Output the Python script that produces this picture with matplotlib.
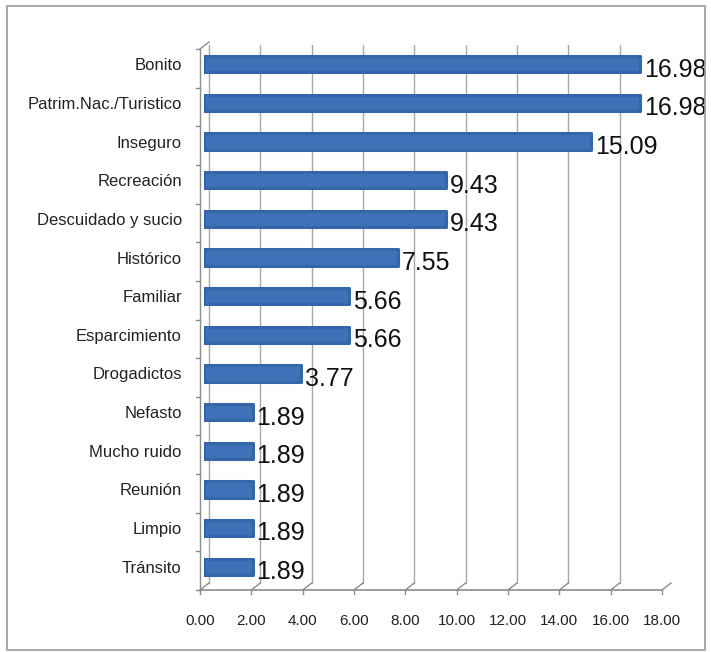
import matplotlib.pyplot as plt
from matplotlib.lines import Line2D
from matplotlib.patches import Rectangle
from matplotlib.transforms import offset_copy, ScaledTranslation

categorias = ['Bonito', 'Patrim.Nac./Turistico', 'Inseguro', 'Recreación',
              'Descuidado y sucio', 'Histórico', 'Familiar', 'Esparcimiento',
              'Drogadictos', 'Nefasto', 'Mucho ruido', 'Reunión', 'Limpio', 'Tránsito']
porcentajes = [16.98, 16.98, 15.09, 9.43, 9.43, 7.55, 5.66, 5.66, 3.77,
               1.89, 1.89, 1.89, 1.89, 1.89]
ticks_x = [0, 2, 4, 6, 8, 10, 12, 14, 16, 18]

plt.rcParams['font.family'] = ['Liberation Sans Narrow', 'Liberation Sans', 'DejaVu Sans']

W, H = 711, 652
fig = plt.figure(figsize=(W / 100, H / 100), dpi=100)

# axes en pixels (x: 0 -> 204 px, 18 -> 666 px ; y: 45 -> 586 px depuis le haut)
x0, x1 = 204, 666
y_top, y_bot = 45, 586
ax = fig.add_axes([x0 / W, 1 - y_bot / H, (x1 - x0) / W, (y_bot - y_top) / H])
ax.set_xlim(0, 18)
ax.set_ylim(-0.5, len(categorias) - 0.5)
for s in ax.spines.values():
    s.set_visible(False)

# decalages de perspective (mur du fond / plancher avant)
back = offset_copy(ax.transData, fig, x=5, y=3, units='dots')
front = offset_copy(ax.transData, fig, x=-4, y=-4, units='dots')
c_grid = '#a8a8a8'
c_floor = '#8c8c8c'
y_min, y_max = -0.5, len(categorias) - 0.5

# mur du fond : lignes verticales
for t in ticks_x:
    ax.add_line(Line2D([t, t], [y_min, y_max], transform=back, color=c_grid, lw=1, zorder=1))
# diagonales du plancher + petites graduations
for t in ticks_x:
    p_b = back.transform((t, y_min))
    p_f = front.transform((t, y_min))
    fig.add_artist(Line2D([p_f[0], p_b[0]], [p_f[1], p_b[1]], transform=None,
                          color=c_floor, lw=1, zorder=1))
    fig.add_artist(Line2D([p_f[0], p_f[0]], [p_f[1], p_f[1] - 4], transform=None,
                          color=c_floor, lw=1, zorder=1))
# ligne avant du plancher
ax.add_line(Line2D([0, 18], [y_min, y_min], transform=front, color=c_floor, lw=1.2,
                   zorder=1, clip_on=False))
# mur de gauche
ax.add_line(Line2D([0, 0], [y_min, y_max], transform=front, color=c_floor, lw=1,
                   zorder=1, clip_on=False))
p_b = back.transform((0, y_max))
p_f = front.transform((0, y_max))
fig.add_artist(Line2D([p_f[0], p_b[0]], [p_f[1], p_b[1]], transform=None, color=c_floor, lw=1))
for k in range(len(categorias) + 1):
    p = front.transform((0, k - 0.5))
    fig.add_artist(Line2D([p[0] - 4, p[0]], [p[1], p[1]], transform=None, color=c_floor, lw=1))

# barres
pos = list(range(len(categorias) - 1, -1, -1))
ax.barh(pos, porcentajes, height=0.42, color='#3d72b8', edgecolor='#3567a8',
        linewidth=2.2, joinstyle='round', zorder=3)

for p, v in zip(pos, porcentajes):
    ax.text(v + 0.15, p - 0.14, f'{v:.2f}', va='center', ha='left', fontsize=18,
            color='#111111', zorder=4)

# etiquettes
ax.set_yticks(pos)
ax.set_yticklabels(categorias, fontsize=12, color='#222222')
ax.tick_params(axis='y', length=0, pad=16)
ax.set_xticks(ticks_x)
ax.set_xticklabels([f'{t:.2f}' for t in ticks_x], fontsize=11, color='#222222')
ax.tick_params(axis='x', length=0, pad=20)
for lab in ax.get_xticklabels():
    lab.set_transform(lab.get_transform() + ScaledTranslation(-4 / 100, 0, fig.dpi_scale_trans))

# cadre exterieur
fig.add_artist(Rectangle((7 / W, 1 - 650 / H), 698 / W, 644 / H, transform=fig.transFigure,
                         fill=False, edgecolor='#9a9a9a', lw=1.2))

fig.savefig('out.png', dpi=100)
